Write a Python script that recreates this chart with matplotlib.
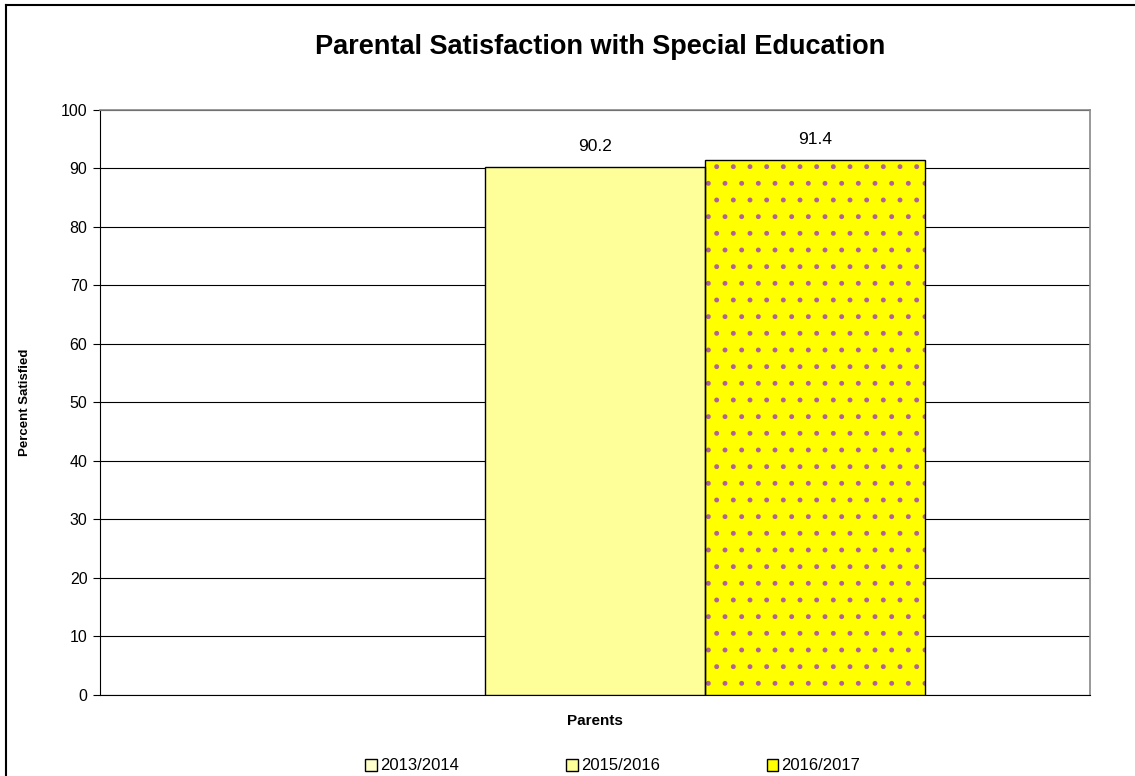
import matplotlib
matplotlib.use("Agg")
import matplotlib.pyplot as plt
from matplotlib.patches import Patch
from matplotlib.lines import Line2D
import numpy as np

plt.rcParams['font.family'] = ['Liberation Sans', 'DejaVu Sans']
plt.rcParams['hatch.linewidth'] = 1.1

categories = ["Parents"]
series = ["2013/2014", "2015/2016", "2016/2017"]
values = [None, 90.2, 91.4]
colors = ["#FFFFCC", "#FFFF99", "#FFFF00"]
hatches = [None, None, "."]
hatch_color = "#B0609A"
yticks = [0, 10, 20, 30, 40, 50, 60, 70, 80, 90, 100]

fig = plt.figure(figsize=(11.35, 7.76), dpi=100)
ax = fig.add_axes([0.0881, 0.1044, 0.8722, 0.7539])

# figure border (left & top visible)
fig.add_artist(Line2D([6/1135, 6/1135], [0, 1 - 5/776], color='black', lw=1.5, transform=fig.transFigure))
fig.add_artist(Line2D([6/1135, 1], [1 - 5/776, 1 - 5/776], color='black', lw=1.5, transform=fig.transFigure))

width = 2/9
x0 = 0
offsets = np.array([-1, 0, 1]) * width
for i, (s, v, c, h) in enumerate(zip(series, values, colors, hatches)):
    if v is None:
        continue
    ax.bar(x0 + offsets[i], v, width=width, color=c, linewidth=0, zorder=3)
    if h:
        ax.bar(x0 + offsets[i], v, width=width, fill=False, edgecolor=hatch_color,
               linewidth=0, hatch=h, zorder=3.5)
    ax.bar(x0 + offsets[i], v, width=width, fill=False, edgecolor='black', linewidth=1.0, zorder=4)
    ax.text(x0 + offsets[i], v + 2.3, f"{v:.1f}", ha='center', va='bottom', fontsize=12.5)

ax.set_xlim(-0.5, 0.5)
ax.set_ylim(0, 100)
ax.set_yticks(yticks)
ax.tick_params(axis='y', direction='out', length=5, labelsize=11.5, pad=4)
ax.set_xticks([])
ax.yaxis.grid(True, color='black', linewidth=0.8, zorder=0)
ax.set_axisbelow(True)
for side in ['top', 'right']:
    ax.spines[side].set_color('#888888')
    ax.spines[side].set_linewidth(1.2)
ax.spines['left'].set_color('black')
ax.spines['bottom'].set_color('black')

ax.set_xlabel(categories[0], fontsize=11, fontweight='bold', labelpad=14)
fig.text(25/1135, 1 - 402/776, "Percent Satisfied", rotation=90, ha='center', va='center',
         fontsize=9.5, fontweight='bold')
fig.text(600/1135, 1 - 47/776, "Parental Satisfaction with Special Education",
         ha='center', va='center', fontsize=19.5, fontweight='bold')

handles = []
for s, c, h in zip(series, colors, hatches):
    handles.append(Patch(facecolor=c, edgecolor='black', label=s))
fig.legend(handles=handles, loc='center', bbox_to_anchor=(0.540, 1 - 766/776), ncol=3,
           frameon=False, fontsize=12, handlelength=0.7, handleheight=0.7,
           handletextpad=0.2, columnspacing=6.4)

fig.savefig("out.png", dpi=100)
